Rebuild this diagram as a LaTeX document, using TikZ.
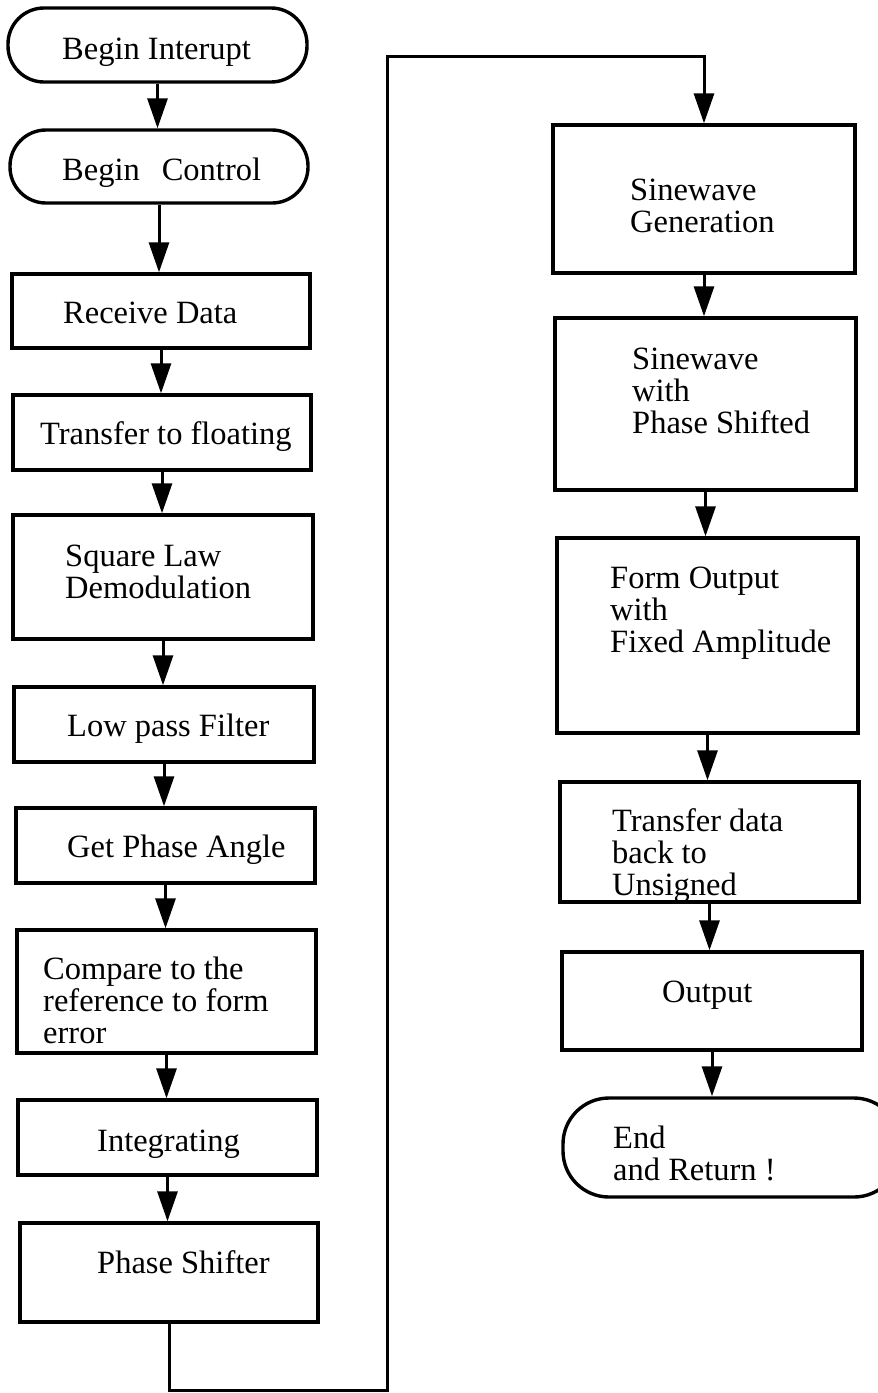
\documentclass[tikz,border=0pt]{standalone}
\usepackage{fontspec}
\setmainfont{Liberation Serif}
\usetikzlibrary{arrows.meta}
\begin{document}
\begin{tikzpicture}[x=1pt,y=-1pt,
  box/.style={draw, line width=3.4pt, rectangle, inner sep=0pt},
  term/.style={box, rounded corners=36pt},
  lbl/.style={inner sep=0pt, anchor=base west, align=left,
              font=\fontsize{32.5pt}{32pt}\selectfont},
  flow/.style={line width=3pt, -{Triangle[length=30pt,width=20pt]}}]
\useasboundingbox (0,0) rectangle (878,1393);

% left column
\node[term, minimum width=299pt, minimum height=74pt] (b1) at (157.5,45) {};
\node[term, minimum width=298pt, minimum height=73pt] (b2) at (159,166.5) {};
\node[box, minimum width=298pt, minimum height=74pt]  (b3) at (161,311) {};
\node[box, minimum width=298pt, minimum height=75pt]  (b4) at (162,432.5) {};
\node[box, minimum width=300pt, minimum height=124pt] (b5) at (163,577) {};
\node[box, minimum width=300pt, minimum height=75pt]  (b6) at (164,724.5) {};
\node[box, minimum width=299pt, minimum height=75pt]  (b7) at (165.5,845.5) {};
\node[box, minimum width=299pt, minimum height=123pt] (b8) at (166.5,991.5) {};
\node[box, minimum width=299pt, minimum height=75pt]  (b9) at (167.5,1137.5) {};
\node[box, minimum width=298pt, minimum height=99pt]  (b10) at (169,1272.5) {};

% right column
\node[box, minimum width=302pt, minimum height=148pt] (r1) at (704,199) {};
\node[box, minimum width=301pt, minimum height=172pt] (r2) at (705.5,404) {};
\node[box, minimum width=301pt, minimum height=195pt] (r3) at (707.5,635.5) {};
\node[box, minimum width=299pt, minimum height=120pt] (r4) at (709.5,842) {};
\node[box, minimum width=300pt, minimum height=98pt]  (r5) at (712,1001) {};
\node[term, rounded corners=46pt, minimum width=337pt, minimum height=99pt] (r6) at (731.5,1147.5) {};

% labels (anchored at the baseline of the last line)
\node[lbl] (t1) at (62,59) {Begin Interupt};
\node[lbl] (t2) at (62,180) {Begin\hspace{22pt}Control};
\node[lbl] (t3) at (63,323) {Receive Data};
\node[lbl] (t4) at (40,444) {Transfer to floating};
\node[lbl] (t5) at (65,598) {Square Law\\Demodulation};
\node[lbl] (t6) at (67,736) {Low pass Filter};
\node[lbl] (t7) at (67,857) {Get Phase Angle};
\node[lbl] (t8) at (43,1043) {Compare to the\\reference to form\\error};
\node[lbl] (t9) at (97,1151) {Integrating};
\node[lbl] (t10) at (97,1273) {Phase Shifter};

\node[lbl] (s1) at (630,232) {Sinewave\\Generation};
\node[lbl] (s2) at (632,433) {Sinewave\\with\\Phase Shifted};
\node[lbl] (s3) at (610,652) {Form Output\\with\\Fixed Amplitude};
\node[lbl] (s4) at (612,895) {Transfer data\\back to\\Unsigned};
\node[lbl] (s5) at (662,1002) {Output};
\node[lbl] (s6) at (613,1180) {End\\and Return !};

% connectors
\draw[flow] (b1.south) -- (b1.south |- b2.north);
\draw[flow] (b2.south) -- (b2.south |- b3.north);
\draw[flow] (b3.south) -- (b3.south |- b4.north);
\draw[flow] (b4.south) -- (b4.south |- b5.north);
\draw[flow] (b5.south) -- (b5.south |- b6.north);
\draw[flow] (b6.south) -- (b6.south |- b7.north);
\draw[flow] (b7.south) -- (b7.south |- b8.north);
\draw[flow] (b8.south) -- (b8.south |- b9.north);
\draw[flow] (b9.south) -- (b9.south |- b10.north);

\coordinate (c1) at (387,1390);
\coordinate (c2) at (387,56);
\draw[flow] (b10.south) |- (c1) -- (c2) -| (r1.north);

\draw[flow] (r1.south) -- (r1.south |- r2.north);
\draw[flow] (r2.south) -- (r2.south |- r3.north);
\draw[flow] (r3.south) -- (r3.south |- r4.north);
\draw[flow] (r4.south) -- (r4.south |- r5.north);
\draw[flow] (r5.south) -- (r5.south |- r6.north);
\end{tikzpicture}
\end{document}
